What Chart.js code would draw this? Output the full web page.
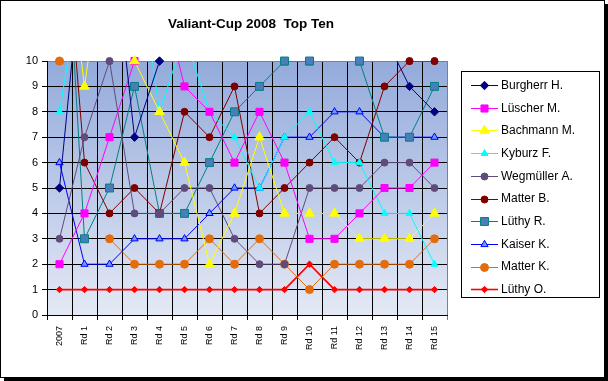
<!DOCTYPE html>
<html><head><meta charset="utf-8">
<script src="https://cdn.jsdelivr.net/npm/chart.js@4/dist/chart.umd.min.js"></script>
<style>html,body{margin:0;padding:0;background:#fff;}#wrap{width:608px;height:381px;position:relative;}</style>
</head><body><div id="wrap"><canvas id="c" width="608" height="381"></canvas></div>
<script>
// ---- data ----
const categories = ['2007','Rd 1','Rd 2','Rd 3','Rd 4','Rd 5','Rd 6','Rd 7','Rd 8','Rd 9','Rd 10','Rd 11','Rd 12','Rd 13','Rd 14','Rd 15'];
const yTicks = [0,1,2,3,4,5,6,7,8,9,10];
const seriesNames = ['Burgherr H.','Lüscher M.','Bachmann M.','Kyburz F.','Wegmüller A.','Matter B.','Lüthy R.','Kaiser K.','Matter K.','Lüthy O.'];
const burgherr  = [5,15,16,7,10,12,13,12,12,13,12,12,12,11,9,8];
const luescher  = [2,4,7,10,13,9,8,6,8,6,3,3,4,5,5,6];
const bachmann  = [17,9,16,10,8,6,2,4,7,4,4,4,3,3,3,4];
const kyburz    = [8,14,13,15,8,11,8,7,5,7,8,6,6,4,4,2];
const wegmueller= [3,7,10,4,4,5,5,3,2,2,5,5,5,6,6,5];
const matterB   = [18,6,4,5,4,8,7,9,4,5,6,7,6,9,10,10];
const luethyR   = [20,3,5,9,4,4,6,8,9,10,10,11,10,7,7,9];
const kaiser    = [6,2,2,3,3,3,4,5,5,7,7,8,8,7,7,7];
const matterK   = [10,null,3,2,2,2,3,2,3,2,1,2,2,2,2,3];
const luethyO   = [1,1,1,1,1,1,1,1,1,1,2,1,1,1,1,1];
const seriesValues = [burgherr,luescher,bachmann,kyburz,wegmueller,matterB,luethyR,kaiser,matterK,luethyO];

// ---- styles ----
const styles = [
  {line:'#000080', fill:'#000080', border:'#000080', shape:'rectRot', r:4.2},
  {line:'#FF00FF', fill:'#FF00FF', border:'#FF00FF', shape:'rect', r:5},
  {line:'#FFFF00', fill:'#FFFF00', border:'#FFFF00', shape:'triangle', r:5.5},
  {line:'#00FFFF', fill:'#00FFFF', border:'#00FFFF', shape:'triangle', r:4},
  {line:'#604C7C', fill:'#604C7C', border:'#604C7C', shape:'circle', r:3.5},
  {line:'#800000', fill:'#800000', border:'#800000', shape:'circle', r:3.5},
  {line:'#008080', fill:'#4A7EBB', border:'#008080', shape:'rect', r:5.6},
  {line:'#0000FF', fill:'#6A9BFF', border:'#0000FF', shape:'triangle', r:4.2},
  {line:'#E46C0A', fill:'#E46C0A', border:'#E46C0A', shape:'circle', r:4},
  {line:'#FF0000', fill:'#FF0000', border:'#FF0000', shape:'rectRot', r:3.2}
];
const FONT = '"Liberation Sans", Arial, sans-serif';

const datasets = seriesValues.map((vals,i)=>({
  label: seriesNames[i],
  data: vals,
  borderColor: styles[i].line,
  backgroundColor: styles[i].fill,
  borderWidth: i===9 ? 1.6 : 1,
  tension: 0,
  spanGaps: false,
  pointStyle: styles[i].shape,
  pointRadius: styles[i].r,
  pointBackgroundColor: styles[i].fill,
  pointBorderColor: styles[i].border,
  pointBorderWidth: 1
}));

const L = 47, T = 61, R = 447, B = 315;

const bgPlugin = {
  id:'bg',
  beforeDraw(chart){
    const ctx = chart.ctx, a = chart.chartArea;
    ctx.save();
    ctx.fillStyle = '#fff';
    ctx.fillRect(0,0,chart.width,chart.height);
    const g = ctx.createLinearGradient(0,a.top,0,a.bottom);
    g.addColorStop(0,'#93AADB');
    g.addColorStop(1,'#E4E9F5');
    ctx.fillStyle = g;
    ctx.fillRect(a.left,a.top,a.right-a.left,a.bottom-a.top);
    ctx.restore();
  },
  afterDraw(chart){
    const ctx = chart.ctx;
    ctx.save();
    // outer frame with shadow
    ctx.fillStyle = '#000';
    ctx.fillRect(605,4,3,377);
    ctx.fillRect(4,378,604,3);
    ctx.strokeStyle = '#000';
    ctx.lineWidth = 1;
    ctx.strokeRect(0.5,0.5,604,377);
    // title
    ctx.fillStyle = '#000';
    ctx.font = 'bold 13.5px ' + FONT;
    ctx.textAlign = 'center';
    ctx.textBaseline = 'middle';
    ctx.fillText('Valiant-Cup 2008  Top Ten', 251, 24);
    // legend
    const bx = 461.5, by = 71.5, bw = 138, bh = 226;
    ctx.fillStyle = '#fff';
    ctx.fillRect(bx,by,bw,bh);
    ctx.strokeStyle = '#000';
    ctx.strokeRect(bx,by,bw,bh);
    chart.data.datasets.forEach((ds,i)=>{
      const y = 85 + i*22.7;
      ctx.strokeStyle = ds.borderColor;
      ctx.lineWidth = ds.borderWidth;
      ctx.beginPath();
      ctx.moveTo(471,Math.round(y)+0.5);
      ctx.lineTo(498,Math.round(y)+0.5);
      ctx.stroke();
      ctx.fillStyle = ds.pointBackgroundColor;
      ctx.strokeStyle = ds.pointBorderColor;
      ctx.lineWidth = 1;
      Chart.helpers.drawPoint(ctx,{pointStyle:ds.pointStyle,radius:ds.pointRadius,rotation:0,borderWidth:1},484.5,Math.round(y)+0.5);
      ctx.fillStyle = '#000';
      ctx.font = '12px ' + FONT;
      ctx.textAlign = 'left';
      ctx.textBaseline = 'middle';
      ctx.fillText(ds.label, 501, y+0.5);
    });
    ctx.restore();
  }
};

const topPointsPlugin = {
  id:'topPoints',
  afterDatasetsDraw(chart){
    const ctx = chart.ctx, a = chart.chartArea;
    chart.data.datasets.forEach((ds,i)=>{
      const meta = chart.getDatasetMeta(i);
      if (meta.hidden) return;
      meta.data.forEach(pt=>{
        if (!pt.skip && Math.abs(pt.y - a.top) < 1.5) pt.draw(ctx, a);
      });
    });
  }
};

new Chart(document.getElementById('c'), {
  type:'line',
  data:{labels:categories, datasets},
  options:{
    responsive:false,
    devicePixelRatio:1,
    animation:false,
    layout:{padding:{left:0,top:T,right:608-R,bottom:0}},
    plugins:{legend:{display:false},title:{display:false},tooltip:{enabled:false}},
    scales:{
      x:{
        type:'category',
        offset:true,
        grid:{offset:true, color:c=>c.tick ? '#000' : '#808080', lineWidth:1, tickLength:5, drawTicks:true},
        border:{color:'#000', width:1},
        ticks:{autoSkip:false, minRotation:90, maxRotation:90, padding:6, color:'#000', font:{family:FONT, size:9}},
        afterFit(s){ s.height = 381 - B; }
      },
      y:{
        min:0, max:10,
        afterBuildTicks(s){ s.ticks = yTicks.map(v=>({value:v})); },
        grid:{color:c=>(c.tick && c.tick.value===10) ? '#808080' : '#000', tickColor:'#000', lineWidth:1, tickLength:5},
        border:{color:'#000', width:1},
        ticks:{padding:4, color:'#000', font:{family:FONT, size:11}},
        afterFit(s){ s.width = L; }
      }
    }
  },
  plugins:[bgPlugin, topPointsPlugin]
});
</script></body></html>
